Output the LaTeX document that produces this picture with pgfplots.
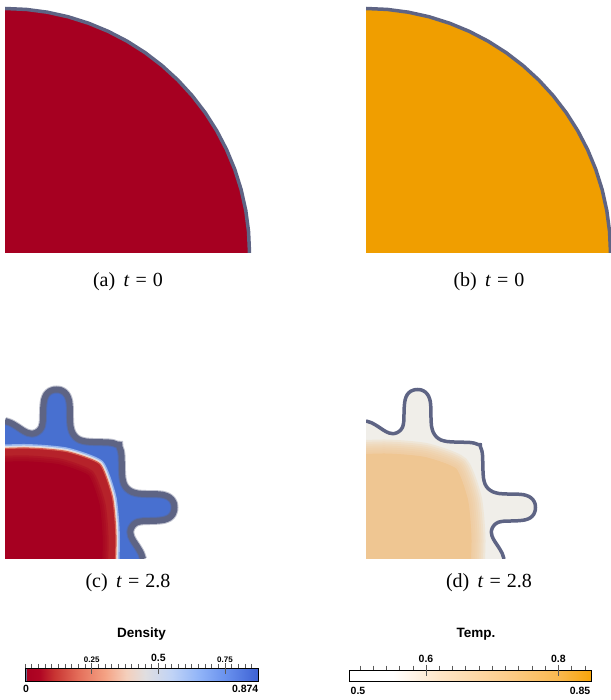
\documentclass[border=0pt]{standalone}
\usepackage{fontspec}
\setmainfont{Liberation Serif}
\newfontfamily\barfont{Liberation Sans}
\usepackage{pgfplots}
\usepackage{pgfplotstable}
\pgfplotsset{compat=1.18}

% colours of the fields
\definecolor{outl}{RGB}{94,100,132}
\definecolor{dred}{RGB}{166,0,33}
\definecolor{lred}{RGB}{182,34,42}
\definecolor{dblue}{RGB}{72,112,208}
\definecolor{orng}{RGB}{240,158,0}
\definecolor{pale}{RGB}{240,238,233}
\definecolor{tanc}{RGB}{239,198,146}

% initial interface: quarter circle, radius 244.5
\pgfplotstableread{
x y
244.5 0
243.57 21.31
240.79 42.46
236.17 63.28
229.75 83.62
221.59 103.33
211.74 122.25
200.28 140.24
187.30 157.16
172.89 172.89
157.16 187.30
140.24 200.28
122.25 211.74
103.33 221.59
83.62 229.75
63.28 236.17
42.46 240.79
21.31 243.57
0 244.5
}\quarter

% interface at t = 2.8 (fingered front)
\pgfplotstableread{
x y
0 138
6 136
12 132.5
18 128.5
23 126
27 125.3
31 126.3
34.5 128.8
36.8 132.5
37.8 138
38 145
38.3 153
39.2 159.5
41.3 164.5
44.8 167.8
49 169.3
51.5 169.5
55.5 169
59.5 166.8
62.5 163
64.3 157.5
64.9 150
65 141
65.5 133
67.2 126.8
70.5 122
75 119
81 117.5
88 117
96 116.8
104 116.5
108.5 115.8
112 114.5
114.3 114.3
114.5 112
115.8 108.5
116.5 104
116.8 96
117 88
117.5 81
119 75
122 70.5
126.8 67.2
133 65.5
141 65
150 64.9
157.5 64.3
163 62.5
166.8 59.5
169 55.5
169.5 51.5
169.3 49
167.8 44.8
164.5 41.3
159.5 39.2
153 38.3
145 38
138 37.8
132.5 36.8
128.8 34.5
126.3 31
125.3 27
126 23
128.5 18
132.5 12
136 6
138 0
}\wavy

% dense core at t = 2.8
\pgfplotstableread{
x y
0 110.5
20 111
40 110
60 107.8
74 104
84 100.5
90 98
95 95
98 90
100.5 84
104 74
107.8 60
110 40
111 20
110.5 0
}\core

\pgfplotstableread{
x y
0 97.2
17.6 97.7
35.2 96.8
52.8 94.9
65.1 91.5
73.9 88.4
79.2 86.2
83.6 83.6
86.2 79.2
88.4 73.9
91.5 65.1
94.9 52.8
96.8 35.2
97.7 17.6
97.2 0
}\innercore

\pgfplotstableread{
x y
0 105
19 105.5
38 104.5
57 102.4
70.3 98.8
79.8 95.5
85.5 93.1
90.3 90.3
93.1 85.5
95.5 79.8
98.8 70.3
102.4 57
104.5 38
105.5 19
105 0
}\warmcore

\pgfplotsset{
  panel/.style={anchor=south west, scale only axis, hide axis, clip=true,
    width=#1bp, height=#1bp, xmin=0, xmax=#1, ymin=0, ymax=#1},
  cbar/.style={anchor=south west, scale only axis, ymin=0, ymax=1,
    ytick=\empty, axis on top, axis line style={line width=0.8bp, black},
    xtick pos=right, tick align=outside, major tick length=4.5bp,
    xticklabels={}, extra x tick labels={},
    tick style={line width=0.5bp, black!65},
    extra x tick style={tick align=center, major tick length=11bp}},
  colormap={density}{
    rgb255(0pt)=(168,0,32) rgb255(55pt)=(176,6,36) rgb255(110pt)=(200,52,50)
    rgb255(200pt)=(228,110,90) rgb255(300pt)=(244,162,132)
    rgb255(380pt)=(244,207,188) rgb255(450pt)=(224,222,224)
    rgb255(550pt)=(192,211,246) rgb255(650pt)=(146,181,248)
    rgb255(750pt)=(106,146,238) rgb255(874pt)=(62,98,212)},
  colormap={temp}{
    rgb255(484pt)=(255,255,255) rgb255(550pt)=(255,255,255)
    rgb255(620pt)=(254,230,200) rgb255(720pt)=(252,205,140)
    rgb255(800pt)=(250,185,80) rgb255(850pt)=(248,165,10)},
}

\begin{document}
\begin{tikzpicture}
\useasboundingbox (0bp,0bp) rectangle (611bp,700bp);

% (a) density at t = 0
\begin{axis}[panel=250, at={(5bp,447bp)}]
  \addplot[fill=dred, draw=none] table {\quarter} \closedcycle;
  \addplot[draw=outl, line width=3.5bp] table {\quarter};
\end{axis}

% (b) temperature at t = 0
\begin{axis}[panel=250, at={(366bp,447bp)}]
  \addplot[fill=orng, draw=none] table {\quarter} \closedcycle;
  \addplot[draw=outl, line width=3.5bp] table {\quarter};
\end{axis}

% (c) density at t = 2.8
\begin{axis}[panel=180, at={(5bp,141bp)}]
  \addplot[fill=dblue, draw=none, smooth] table {\wavy} \closedcycle;
  \addplot[draw={rgb,255:red,150;green,180;blue,236}, line width=8bp, smooth] table {\core};
  \addplot[draw={rgb,255:red,214;green,224;blue,240}, line width=5bp, smooth] table {\core};
  \addplot[draw={rgb,255:red,242;green,212;blue,196}, line width=3bp, smooth] table {\core};
  \addplot[fill=lred, draw=none, smooth] table {\core} \closedcycle;
  \addplot[fill=dred, draw=none, smooth] table {\innercore} \closedcycle;
  \pgfplotsinvokeforeach{4,8,12}{
    \addplot[draw=dred, line width=#1bp, opacity=0.35, smooth] table {\innercore};
  }
  \addplot[draw={rgb,255:red,214;green,96;blue,80}, line width=1.2bp, smooth] table {\core};
  \addplot[draw=outl, line width=8bp, opacity=0.4, smooth] table {\wavy};
  \addplot[draw=outl, line width=6bp, smooth] table {\wavy};
\end{axis}

% (d) temperature at t = 2.8
\begin{axis}[panel=180, at={(366bp,141bp)}]
  \addplot[fill=pale, draw=none, smooth] table {\wavy} \closedcycle;
  \addplot[fill=tanc, draw=none, smooth] table {\warmcore} \closedcycle;
  \pgfplotsinvokeforeach{4,8,12,16,20,24,28}{
    \addplot[draw=tanc, line width=#1bp, opacity=0.2, smooth] table {\warmcore};
  }
  \addplot[draw=outl, line width=3.5bp, smooth] table {\wavy};
\end{axis}

% captions
\begin{scope}[every node/.style={anchor=base, font=\fontsize{20bp}{24bp}\selectfont}]
  \node at (128bp,413.3bp) {(a)\hspace{0.42em}\textit{t}\hspace{0.3em}=\hspace{0.3em}0};
  \node at (489bp,413.3bp) {(b)\hspace{0.42em}\textit{t}\hspace{0.3em}=\hspace{0.3em}0};
  \node at (128bp,112.3bp) {(c)\hspace{0.42em}\textit{t}\hspace{0.3em}=\hspace{0.3em}2.8};
  \node at (489bp,112.3bp) {(d)\hspace{0.42em}\textit{t}\hspace{0.3em}=\hspace{0.3em}2.8};
\end{scope}

% density colour bar
\begin{axis}[cbar, at={(25bp,19bp)}, width=233bp, height=12.5bp,
    xmin=0, xmax=0.874, colormap name=density,
    point meta min=0, point meta max=0.874,
    xtick={0,0.025,...,0.86}, extra x ticks={0.25,0.5,0.75}]
  \addplot[surf, shader=interp, point meta=x, mesh/cols=2] coordinates {
    (0,0) (0.874,0)

    (0,1) (0.874,1)
  };
  \addplot[fill={rgb,255:red,110;green,118;blue,150}, draw=none]
    coordinates {(0,0) (0.006,0) (0.006,1) (0,1)};
\end{axis}

% temperature colour bar
\begin{axis}[cbar, at={(349.3bp,18.3bp)}, width=242.1bp, height=11.7bp,
    xmin=0.484, xmax=0.85, colormap name=temp,
    point meta min=0.484, point meta max=0.85,
    xtick={0.5,0.52,...,0.845}, extra x ticks={0.6,0.8}]
  \addplot[surf, shader=interp, point meta=x, mesh/cols=2] coordinates {
    (0.484,0) (0.85,0)

    (0.484,1) (0.85,1)
  };
\end{axis}

% colour bar titles and labels
\begin{scope}[every node/.style={font=\barfont\bfseries}]
  \node[font=\barfont\bfseries\fontsize{13.5bp}{16bp}\selectfont] at (141.5bp,65.7bp) {Density};
  \node[font=\barfont\bfseries\fontsize{8bp}{10bp}\selectfont] at (91.7bp,40bp) {0.25};
  \node[font=\barfont\bfseries\fontsize{10.5bp}{12bp}\selectfont] at (158.3bp,41.7bp) {0.5};
  \node[font=\barfont\bfseries\fontsize{8bp}{10bp}\selectfont] at (225bp,40bp) {0.75};
  \node[font=\barfont\bfseries\fontsize{10.5bp}{12bp}\selectfont] at (26bp,10.7bp) {0};
  \node[font=\barfont\bfseries\fontsize{10.5bp}{12bp}\selectfont, anchor=east, inner xsep=0pt] at (258.5bp,10.7bp) {0.874};
  \node[font=\barfont\bfseries\fontsize{13.5bp}{16bp}\selectfont] at (476bp,66bp) {Temp.};
  \node[font=\barfont\bfseries\fontsize{10.5bp}{12bp}\selectfont] at (426bp,40.7bp) {0.6};
  \node[font=\barfont\bfseries\fontsize{10.5bp}{12bp}\selectfont] at (558.3bp,40.7bp) {0.8};
  \node[font=\barfont\bfseries\fontsize{10.5bp}{12bp}\selectfont] at (358bp,9.3bp) {0.5};
  \node[font=\barfont\bfseries\fontsize{10.5bp}{12bp}\selectfont] at (580bp,9.3bp) {0.85};
\end{scope}
\end{tikzpicture}
\end{document}
